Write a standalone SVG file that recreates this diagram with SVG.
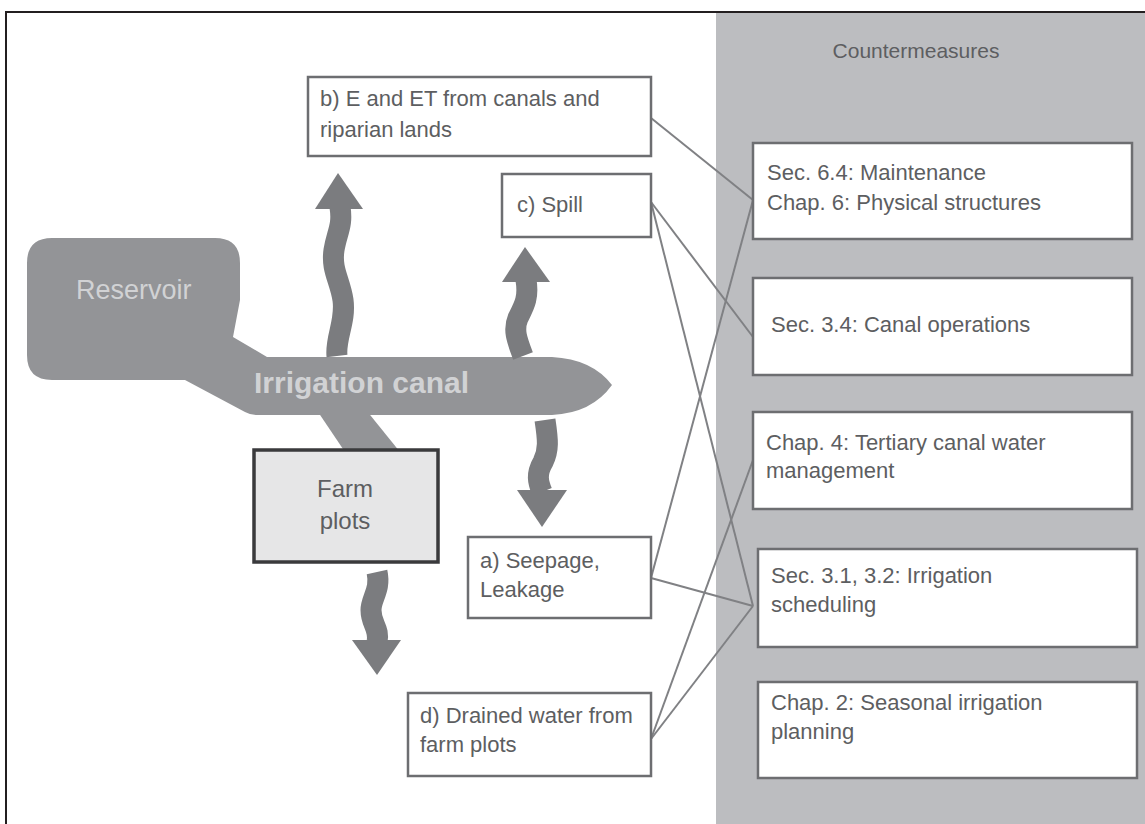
<svg xmlns="http://www.w3.org/2000/svg" width="1145" height="824" viewBox="0 0 1145 824">
<style>
.box{fill:#fff;stroke:#6d6e71;stroke-width:2.5}
.t{font-family:"Liberation Sans",Arial,sans-serif;font-size:22px;fill:#5d5e61}
.wave{fill:none;stroke:#7b7c7f;stroke-width:21}
.head{fill:#7b7c7f}
.con{stroke:#808184;stroke-width:2;fill:none}
</style>
<rect x="0" y="0" width="1145" height="824" fill="#fff"/>
<rect x="716" y="12" width="429" height="812" fill="#bcbdc0"/>
<rect x="6" y="12" width="1150" height="830" fill="none" stroke="#231f20" stroke-width="2"/>
<text class="t" x="916" y="58" text-anchor="middle" style="font-size:21px">Countermeasures</text>

<g id="canal">
<path d="M310,400 L358,400 L400,452 L345,452 Z" fill="#939497"/>
<path d="M52,238 L215,238 Q240,238 240,263 L240,300 L233,337 L267,357 L552,357 Q592,359 612,385 Q592,413 552,415 L258,415 Q250,415 245,412 L185,380 L52,380 Q27,380 27,355 L27,263 Q27,238 52,238 Z" fill="#939497"/>
<text x="76" y="299" style="font-family:'Liberation Sans',Arial,sans-serif;font-size:27px;fill:#d1d2d4">Reservoir</text>
<text x="254" y="393" style="font-family:'Liberation Sans',Arial,sans-serif;font-size:30px;font-weight:bold;fill:#d1d2d4">Irrigation canal</text>
</g>

<g id="arrows">
<path class="wave" d="M337,356 C335,338 346,322 343,300 C340,280 331,270 334,250 C337,232 343,226 340,207"/>
<polygon class="head" points="315,209 363,209 338,173"/>
<path class="wave" d="M523,356 C517,340 513,330 518,318 C524,306 529,298 526,280"/>
<polygon class="head" points="502,282 550,282 525,247"/>
<path class="wave" d="M545,420 C548,440 549,450 543,462 C536,474 538,482 542,492"/>
<polygon class="head" points="517,490 567,490 542,527"/>
<path class="wave" d="M377,572 C381,590 371,598 371,610 C371,625 380,628 377,642"/>
<polygon class="head" points="352,640 401,640 377,675"/>
</g>

<g id="farm">
<rect x="254" y="450" width="184" height="112" fill="#e6e6e7" stroke="#3a3a3c" stroke-width="3.5"/>
<text class="t" x="345" y="497" text-anchor="middle" style="font-size:24px">Farm</text>
<text class="t" x="345" y="529" text-anchor="middle" style="font-size:24px">plots</text>
</g>

<g id="connectors">
<line class="con" x1="651" y1="118" x2="753" y2="200"/>
<line class="con" x1="651" y1="578" x2="753" y2="200"/>
<line class="con" x1="651" y1="202" x2="753" y2="337"/>
<line class="con" x1="651" y1="202" x2="753" y2="606"/>
<line class="con" x1="651" y1="578" x2="753" y2="606"/>
<line class="con" x1="651" y1="739" x2="753" y2="606"/>
<line class="con" x1="651" y1="739" x2="753" y2="460"/>
</g>

<g id="loss-b">
<rect class="box" x="308" y="77" width="343" height="79"/>
<text class="t" x="320" y="106">b) E and ET from canals and</text>
<text class="t" x="320" y="137">riparian lands</text>
</g>
<g id="loss-c">
<rect class="box" x="502" y="174" width="149" height="63"/>
<text class="t" x="517" y="212">c) Spill</text>
</g>
<g id="loss-a">
<rect class="box" x="468" y="537" width="183" height="81"/>
<text class="t" x="480" y="568">a) Seepage,</text>
<text class="t" x="480" y="597">Leakage</text>
</g>
<g id="loss-d">
<rect class="box" x="408" y="693" width="243" height="83"/>
<text class="t" x="420" y="723">d) Drained water from</text>
<text class="t" x="420" y="752">farm plots</text>
</g>

<g id="cm1">
<rect class="box" x="753" y="143" width="379" height="96"/>
<text class="t" x="767" y="180">Sec. 6.4: Maintenance</text>
<text class="t" x="767" y="210">Chap. 6: Physical structures</text>
</g>
<g id="cm2">
<rect class="box" x="753" y="278" width="379" height="97"/>
<text class="t" x="771" y="332">Sec. 3.4: Canal operations</text>
</g>
<g id="cm3">
<rect class="box" x="753" y="412" width="379" height="97"/>
<text class="t" x="766" y="450">Chap. 4: Tertiary canal water</text>
<text class="t" x="766" y="478">management</text>
</g>
<g id="cm4">
<rect class="box" x="758" y="549" width="379" height="98"/>
<text class="t" x="771" y="583">Sec. 3.1, 3.2: Irrigation</text>
<text class="t" x="771" y="612">scheduling</text>
</g>
<g id="cm5">
<rect class="box" x="758" y="682" width="379" height="96"/>
<text class="t" x="771" y="710">Chap. 2: Seasonal irrigation</text>
<text class="t" x="771" y="739">planning</text>
</g>
</svg>
